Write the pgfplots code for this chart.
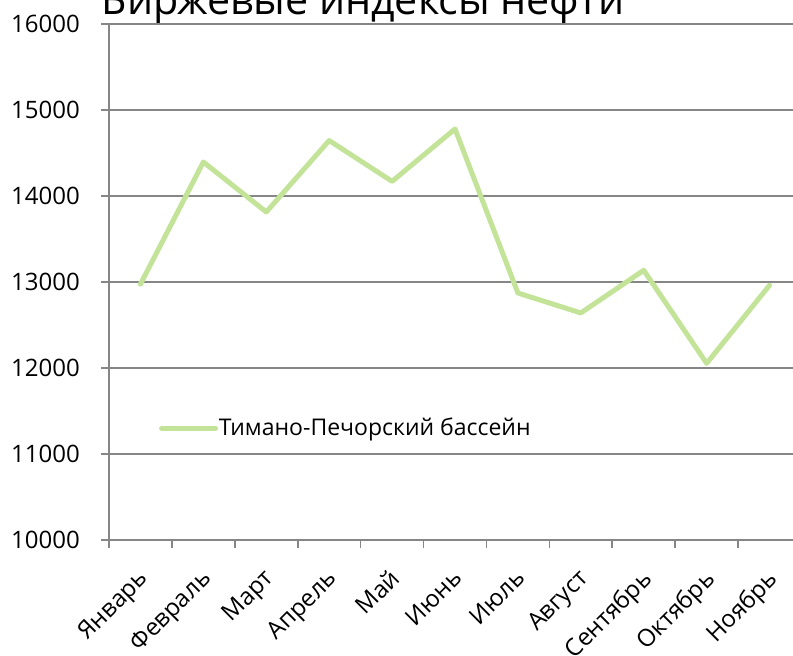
\documentclass[border=0pt]{standalone}
\usepackage{fontspec}
\setmainfont{Open Sans}
\usepackage{pgfplots}
\pgfplotsset{compat=1.18}
\definecolor{linegreen}{RGB}{195,228,152}
\definecolor{gridgray}{RGB}{134,134,134}
\begin{document}
\begin{tikzpicture}
\useasboundingbox (0,0) rectangle (594.75pt,492pt);
\clip (0,0) rectangle (594.75pt,492pt);
\node[anchor=base, font=\fontsize{30.9pt}{36pt}\selectfont] at (272.25pt,480.75pt) {Биржевые индексы нефти};
\begin{axis}[
  at={(81.75pt,87pt)}, anchor=south west,
  scale only axis, width=519pt, height=387pt,
  xmin=-0.5, xmax=10.5, ymin=10000, ymax=16000,
  axis x line*=bottom, axis y line*=left,
  axis line style={gridgray, line width=1.2pt, -},
  ytick={10000,11000,12000,13000,14000,15000,16000},
  scaled y ticks=false,
  yticklabels={10000,11000,12000,13000,14000,15000,16000},
  xtick={-0.5,0.5,1.5,2.5,3.5,4.5,5.5,6.5,7.5,8.5,9.5,10.5},
  xticklabels={Январь,Февраль,Март,Апрель,Май,Июнь,Июль,Август,Сентябрь,Октябрь,Ноябрь,{}},
  tick align=outside, major tick length=6pt,
  tick style={gridgray, line width=1.2pt},
  ymajorgrids, grid style={gridgray, line width=1.2pt},
  /pgf/number format/assume math mode=true,
  /pgf/number format/1000 sep={},
  tick label style={font=\fontsize{18pt}{21pt}\selectfont},
  yticklabel style={anchor=east, inner sep=0pt, xshift=-15.75pt},
  xticklabel style={rotate=45, anchor=north east, inner sep=0pt, xshift=4.6pt, yshift=-25pt},
  legend style={at={(0.072,0.217)}, anchor=west, draw=none, fill=none,
    font=\fontsize{17.25pt}{20pt}\selectfont, inner sep=0pt,
    nodes={inner sep=0.5pt}},
  legend cell align=left,
  legend image code/.code={\draw[#1, line cap=round] (0pt,0pt) -- (40.5pt,0pt);},
]
\addplot[linegreen, line width=3.75pt, line cap=round, line join=round] coordinates {
  (0,12975) (1,14395) (2,13814) (3,14645) (4,14170) (5,14780)
  (6,12872) (7,12640) (8,13136) (9,12054) (10,12962)
};
\addlegendentry{Тимано-Печорский бассейн}
\end{axis}
\end{tikzpicture}
\end{document}
